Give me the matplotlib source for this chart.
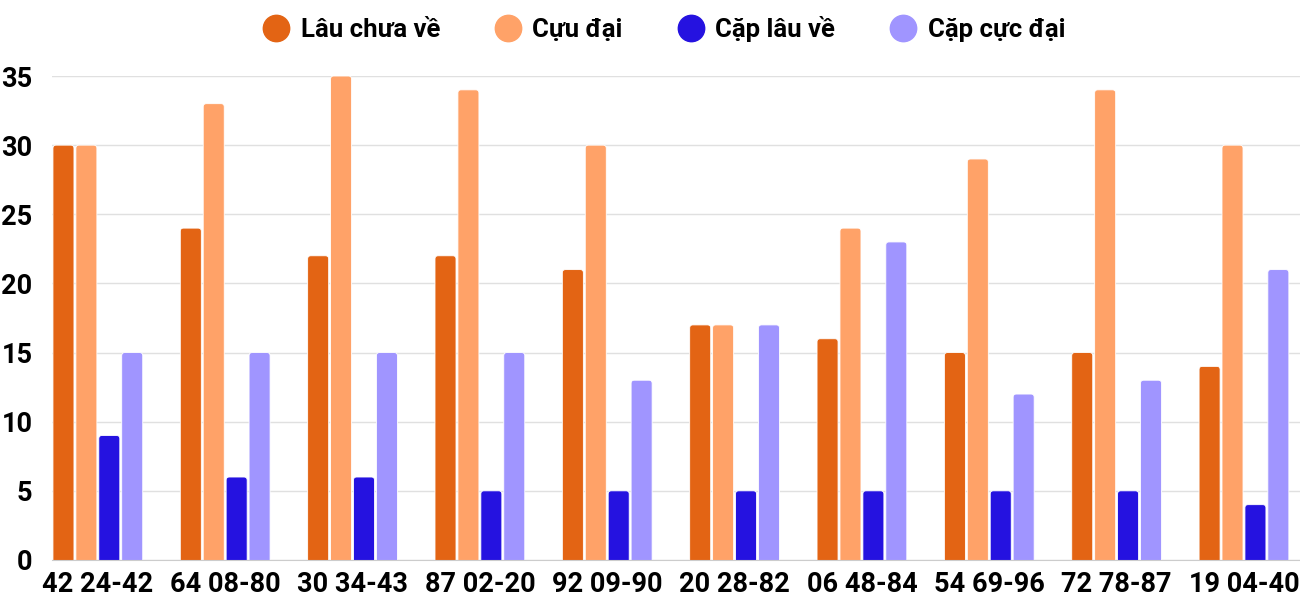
import matplotlib
matplotlib.use("Agg")
import matplotlib.pyplot as plt
from matplotlib.patches import FancyBboxPatch
import numpy as np

categories = ["42 24-42", "64 08-80", "30 34-43", "87 02-20", "92 09-90",
              "20 28-82", "06 48-84", "54 69-96", "72 78-87", "19 04-40"]
lau_chua_ve = [30, 24, 22, 22, 21, 17, 16, 15, 15, 14]
cuc_dai = [30, 33, 35, 34, 30, 17, 24, 29, 34, 30]
cap_lau_ve = [9, 6, 6, 5, 5, 5, 5, 5, 5, 4]
cap_cuc_dai = [15, 15, 15, 15, 13, 17, 23, 12, 13, 21]
series_names = ["Lâu chưa về", "Cựu đại", "Cặp lâu về", "Cặp cực đại"]
colors = ["#E36414", "#FFA268", "#2512E0", "#A095FF"]
yticks = [0, 5, 10, 15, 20, 25, 30, 35]

plt.rcParams['font.family'] = ['Roboto', 'DejaVu Sans']
fig = plt.figure(figsize=(13, 6), dpi=100)
ax = fig.add_axes([0.04, 0.0667, 0.96, 0.8066])

x = np.arange(len(categories))
step = 0.18
width = 0.165
xlim = (-0.36, 9.44)
ylim = (0, 35)
# aspect: data-y per pixel divided by data-x per pixel
aspect = ((ylim[1] - ylim[0]) / (0.8066 * 600)) / ((xlim[1] - xlim[0]) / (0.96 * 1300))
r = 0.025
for i, (vals, name, c) in enumerate(zip([lau_chua_ve, cuc_dai, cap_lau_ve, cap_cuc_dai], series_names, colors)):
    bars = ax.bar(x + (i - 1.5) * step, vals, width, color=c, label=name, zorder=3)
    for b in bars:
        b.set_visible(False)
        p = FancyBboxPatch((b.get_x(), -1.0), b.get_width(), b.get_height() + 1.0,
                           boxstyle=f"round,pad=0,rounding_size={r}",
                           mutation_aspect=aspect, facecolor=c,
                           edgecolor='white', linewidth=0.6, zorder=3)
        ax.add_patch(p)

ax.set_xlim(*xlim)
ax.set_ylim(*ylim)
ax.set_yticks(yticks)
ax.set_xticks(x)
ax.set_xticklabels(categories)
ax.grid(axis='y', color='#e0e0e0', linewidth=1, zorder=0)
for s in ['top', 'right', 'left']:
    ax.spines[s].set_visible(False)
ax.spines['bottom'].set_color('#cccccc')
ax.spines['bottom'].set_zorder(4)
ax.tick_params(axis='both', length=0, labelsize=19.5)
ax.tick_params(axis='y', pad=14)
ax.tick_params(axis='x', pad=8)
for lab in ax.get_xticklabels() + ax.get_yticklabels():
    lab.set_fontweight('bold')

handles = [plt.Line2D([], [], marker='o', linestyle='none', markersize=19, color=c) for c in colors]
fig.legend(handles, series_names, loc='upper center', bbox_to_anchor=(0.511, 1.012), ncol=4,
           frameon=False, prop={'weight': 'bold', 'size': 18.5},
           handlelength=1.0, handletextpad=0.45, columnspacing=2.15)

fig.savefig("out.png", dpi=100)
